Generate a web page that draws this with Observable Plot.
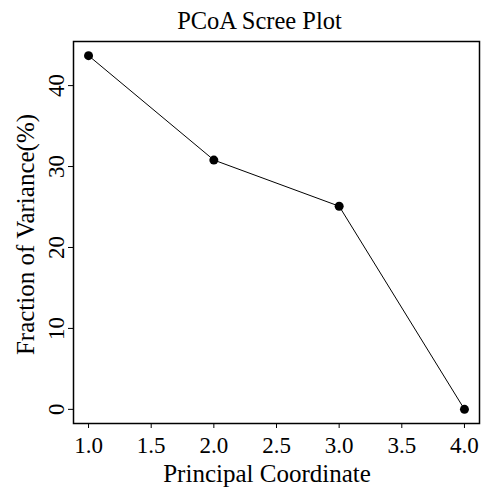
<!DOCTYPE html>
<html>
<head>
<meta charset="utf-8">
<script src="https://cdn.jsdelivr.net/npm/d3@7"></script>
<script src="https://cdn.jsdelivr.net/npm/@observablehq/plot@0.6"></script>
<style>
  html, body { margin: 0; padding: 0; background: #fff; }
  svg text { font-family: 'Liberation Serif', 'Times New Roman', serif !important; }
</style>
</head>
<body>
<div id="chart"></div>
<script>
const titleText = "PCoA Scree Plot";
const xLabel = "Principal Coordinate";
const yLabel = "Fraction of Variance(%)";
const coordinates = [1, 2, 3, 4];
const variance = [43.7, 30.8, 25.1, 0];
const xTicks = [1, 1.5, 2, 2.5, 3, 3.5, 4];
const yTicks = [0, 10, 20, 30, 40];

const data = coordinates.map((c, i) => ({pc: c, v: variance[i]}));

// R-style 4% axis extension
const ext = (lo, hi) => [lo - 0.04 * (hi - lo), hi + 0.04 * (hi - lo)];
const xDomain = ext(d3.min(coordinates), d3.max(coordinates));
const yDomain = ext(d3.min(variance), d3.max(variance));

const font = "'Liberation Serif', 'Times New Roman', serif";

const chart = Plot.plot({
  width: 483,
  height: 495,
  marginLeft: 73,
  marginRight: 4,
  marginTop: 41,
  marginBottom: 72,
  style: {fontFamily: font, fontSize: "23px", color: "#000", background: "#fff", overflow: "visible"},
  x: {domain: xDomain},
  y: {domain: yDomain},
  marks: [
    Plot.axisX({ticks: xTicks, tickSize: 5, tickPadding: 8, tickFormat: d3.format(".1f"), label: null, stroke: "#000", fill: "#000", fontSize: 23, fontFamily: font}),
    Plot.axisY({ticks: yTicks, tickSize: 5, text: null, label: null, stroke: "#000"}),
    Plot.text(yTicks, {y: d => d, frameAnchor: "left", text: d => String(d), rotate: -90, dx: -10, textAnchor: "middle", lineAnchor: "bottom", fontSize: 23, fontFamily: font, fill: "#000"}),
    Plot.frame({stroke: "#000", strokeWidth: 1.5}),
    Plot.line(data, {x: "pc", y: "v", stroke: "#000", strokeWidth: 1}),
    Plot.dot(data, {x: "pc", y: "v", r: 4.5, fill: "#000", stroke: "none"}),
    Plot.text([titleText], {frameAnchor: "top", text: d => d, dx: -17, dy: -13, textAnchor: "middle", lineAnchor: "bottom", fontSize: 24.5, fontFamily: font, fill: "#000"}),
    Plot.text([xLabel], {frameAnchor: "bottom", text: d => d, dx: -9.5, dy: 58, textAnchor: "middle", lineAnchor: "bottom", fontSize: 25, fontFamily: font, fill: "#000"}),
    Plot.text([yLabel], {frameAnchor: "left", text: d => d, rotate: -90, dx: -40, dy: 2, textAnchor: "middle", lineAnchor: "bottom", fontSize: 25, fontFamily: font, fill: "#000"})
  ]
});
document.getElementById("chart").appendChild(chart);
</script>
</body>
</html>
